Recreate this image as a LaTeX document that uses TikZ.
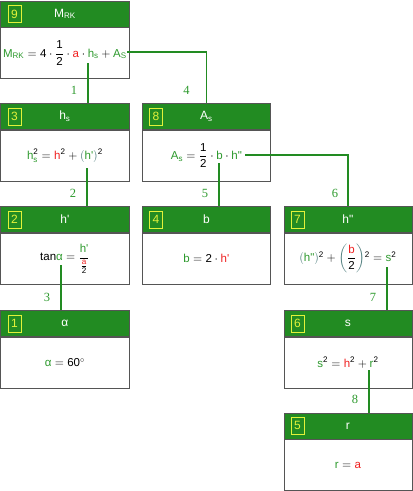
\documentclass[tikz,border=0pt]{standalone}
\usepackage{amsmath}
\usepackage{fontspec}
\setmainfont{Liberation Sans}
\newfontfamily\stepfont{Liberation Serif}
\usetikzlibrary{positioning}
\definecolor{headgreen}{HTML}{228B22}
\definecolor{vargreen}{HTML}{2E9A2E}
\definecolor{varred}{HTML}{F02020}
\definecolor{brkteal}{HTML}{4A7A7A}
\definecolor{tagyellow}{HTML}{E2F23A}
\definecolor{boxgray}{HTML}{555555}
\newcommand{\gv}[1]{\textcolor{vargreen}{\text{#1}}}
\newcommand{\rv}[1]{\textcolor{varred}{\text{#1}}}
\newcommand{\kv}[1]{\text{#1}}
\newcommand{\br}[1]{\textcolor{brkteal}{#1}}
\newcommand{\linkD}[3]{%
  \draw[link] (#1) -- (#1 |- #2.north);
  \path (#1 |- #2.north) ++(-14,-13) node[linklabel] {#3};%
}
\newcommand{\linkR}[4]{%
  \draw[link] (#1) -| (#2.north);
  \path (#2.north) ++(#4,-13) node[linklabel] {#3};%
}

\begin{document}
\begin{tikzpicture}[
  x=1pt,
  y=-1pt,
  head/.style={draw=boxgray, fill=headgreen, text=white, line width=0.8pt, anchor=north west,
    minimum width=128pt, minimum height=26pt, inner sep=0pt, font=\fontsize{12}{14}\selectfont},
  body/.style={draw=boxgray, fill=white, line width=0.8pt, minimum width=128pt,
    minimum height=51pt, inner sep=0pt, font=\fontsize{11.5}{14}\selectfont},
  tag/.style={draw=tagyellow, text=tagyellow, line width=0.8pt, anchor=west,
    minimum width=13pt, minimum height=17pt, inner sep=0pt, font=\fontsize{12}{14}\selectfont},
  link/.style={draw=headgreen, line width=1.2pt},
  linklabel/.style={text=vargreen, font=\stepfont\fontsize{12.5}{14}\selectfont}
]
  \useasboundingbox (0,0) rectangle (413,491);

  % Result box.
  \node[head] (h9) at (0.5,0.5) {M\textsubscript{RK}};
  \node[tag] at ([xshift=7pt]h9.west) {9};
  \node[body, below=0pt of h9] (b9) {$\gv{M}_{\gv{RK}} = \kv{4}\cdot\dfrac{\kv{1}}{\kv{2}}\cdot\rv{a}\cdot\gv{h}_{\gv{s}} + \gv{A}_{\gv{S}}$};

  % Second row.
  \node[head] (h3) at (0.5,103) {h\textsubscript{s}};
  \node[tag] at ([xshift=7pt]h3.west) {3};
  \node[body, below=0pt of h3] (b3) {$\gv{h}_{\gv{s}}^{\kv{2}} = \rv{h}^{\kv{2}} + \br{(}\gv{h\textquotesingle}\br{)}^{\kv{2}}$};

  \node[head] (h8) at (142,103) {A\textsubscript{s}};
  \node[tag] at ([xshift=7pt]h8.west) {8};
  \node[body, below=0pt of h8] (b8) {$\gv{A}_{\gv{s}} = \dfrac{\kv{1}}{\kv{2}}\cdot\gv{b}\cdot\gv{h\textquotedbl}$};

  % Third row.
  \node[head] (h2) at (0.5,206) {h\textquotesingle};
  \node[tag] at ([xshift=7pt]h2.west) {2};
  \node[body, below=0pt of h2] (b2) {$\kv{tan}\gv{α} = \dfrac{\gv{h\textquotesingle}}{\frac{\rv{a}}{\kv{2}}}$};

  \node[head] (h4) at (142,206) {b};
  \node[tag] at ([xshift=7pt]h4.west) {4};
  \node[body, below=0pt of h4] (b4) {$\gv{b} = \kv{2}\cdot\rv{h\textquotesingle}$};

  \node[head] (h7) at (283.5,206) {h\textquotedbl};
  \node[tag] at ([xshift=7pt]h7.west) {7};
  \node[body, below=0pt of h7] (b7) {$\br{(}\gv{h\textquotedbl}\br{)}^{\kv{2}} + \br{\biggl(}\dfrac{\rv{b}}{\kv{2}}\br{\biggr)}^{\kv{2}} = \gv{s}^{\kv{2}}$};

  % Fourth row.
  \node[head] (h1) at (0.5,310) {α};
  \node[tag] at ([xshift=7pt]h1.west) {1};
  \node[body, below=0pt of h1] (b1) {$\gv{α} = \kv{60}^{\circ}$};

  \node[head] (h6) at (283.5,310) {s};
  \node[tag] at ([xshift=7pt]h6.west) {6};
  \node[body, below=0pt of h6] (b6) {$\gv{s}^{\kv{2}} = \rv{h}^{\kv{2}} + \gv{r}^{\kv{2}}$};

  % Last row.
  \node[head] (h5) at (283.5,412.5) {r};
  \node[tag] at ([xshift=7pt]h5.west) {5};
  \node[body, below=0pt of h5] (b5) {$\gv{r} = \rv{a}$};

  % Where each link leaves its formula.
  \coordinate (s1) at (88,63);
  \coordinate (s4) at (127,52);
  \coordinate (s2) at (87,168);
  \coordinate (s5) at (219,163);
  \coordinate (s6) at (245,155);
  \coordinate (s3) at (61,265);
  \coordinate (s7) at (387,267);
  \coordinate (s8) at (369,370);

  % Links, numbered in solving order.
  \linkD{s1}{h3}{1}
  \linkR{s4}{h8}{4}{-20}
  \linkD{s2}{h2}{2}
  \linkD{s5}{h4}{5}
  \linkR{s6}{h7}{6}{-13}
  \linkD{s3}{h1}{3}
  \linkD{s7}{h6}{7}
  \linkD{s8}{h5}{8}
\end{tikzpicture}
\end{document}
